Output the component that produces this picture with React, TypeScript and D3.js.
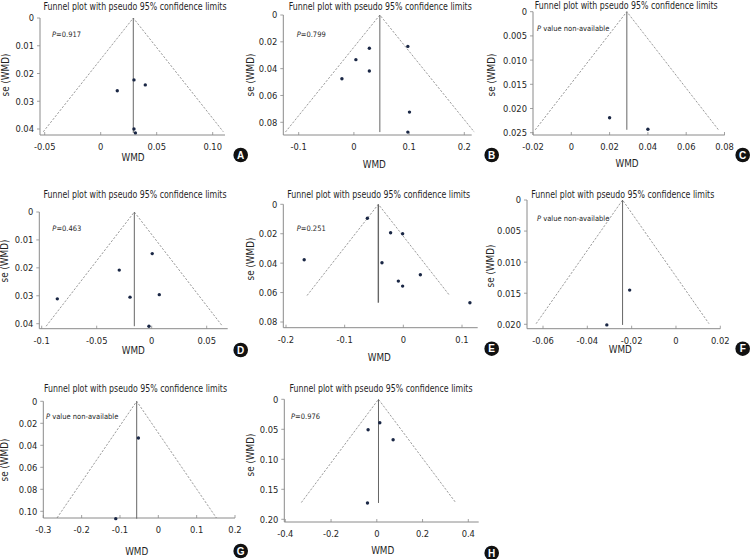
import React from "react";
import * as d3 from "d3";

// ---------- DATA ----------
const panelLetters = ["A", "B", "C", "D", "E", "F", "G", "H"];
const titleText = "Funnel plot with pseudo 95% confidence limits";
const pLabels = ["P=0.917", "P=0.799", "P value non-available", "P=0.463", "P=0.251", "P value non-available", "P value non-available", "P=0.976"];

const wmdA = [0.0148, 0.0297, 0.0398, 0.0297, 0.031];
const seA = [0.0262, 0.0223, 0.0241, 0.04, 0.0414];
const wmdB = [0.028, 0.0036, 0.028, -0.0217, 0.0977, 0.1007, 0.0977];
const seB = [0.0248, 0.0333, 0.0418, 0.0475, 0.0234, 0.0724, 0.0873];
const wmdC = [0.02, 0.04];
const seC = [0.0219, 0.0243];
const wmdD = [0.0005, -0.0295, -0.0858, -0.0197, 0.0069, -0.0025];
const seD = [0.0149, 0.0208, 0.0311, 0.0305, 0.0296, 0.0409];
const wmdE = [-0.0613, -0.0217, -0.0012, -0.169, -0.0364, 0.029, -0.0085, -0.0012, 0.1135];
const seE = [0.0095, 0.0193, 0.02, 0.0377, 0.0397, 0.0479, 0.0522, 0.0556, 0.0669];
const wmdF = [-0.0209, -0.0312];
const seF = [0.0145, 0.0201];
const wmdG = [-0.052, -0.111];
const seG = [0.0334, 0.1067];
const wmdH = [0.0131, -0.038, 0.0713, -0.0407];
const seH = [0.039, 0.0507, 0.0673, 0.1728];

const pooled = [0.0291, 0.047, 0.029, -0.0158, -0.0426, -0.0241, -0.0564, 0.0074];
const maxSe = [0.0414, 0.0873, 0.0244, 0.0409, 0.0669, 0.0201, 0.1067, 0.1728];
const ciSe = [0.041, 0.0873, 0.0244, 0.0409, 0.062, 0.0199, 0.106, 0.172];

const xTicksA = [-0.05, 0, 0.05, 0.1];
const xTickLabelsA = ["-0.05", "0", "0.05", "0.10"];
const yTicksA = [0, 0.01, 0.02, 0.03, 0.04];
const yTickLabelsA = ["0", "0.01", "0.02", "0.03", "0.04"];
const xTicksB = [-0.1, 0, 0.1, 0.2];
const xTickLabelsB = ["-0.1", "0", "0.1", "0.2"];
const yTicksB = [0, 0.02, 0.04, 0.06, 0.08];
const yTickLabelsB = ["0", "0.02", "0.04", "0.06", "0.08"];
const xTicksC = [-0.02, 0, 0.02, 0.04, 0.06, 0.08];
const xTickLabelsC = ["-0.02", "0", "0.02", "0.04", "0.06", "0.08"];
const yTicksC = [0, 0.005, 0.01, 0.015, 0.02, 0.025];
const yTickLabelsC = ["0", "0.005", "0.010", "0.015", "0.020", "0.025"];
const xTicksD = [-0.1, -0.05, 0, 0.05];
const xTickLabelsD = ["-0.1", "-0.05", "0", "0.05"];
const yTicksD = [0, 0.01, 0.02, 0.03, 0.04];
const yTickLabelsD = ["0", "0.01", "0.02", "0.03", "0.04"];
const xTicksE = [-0.2, -0.1, 0, 0.1];
const xTickLabelsE = ["-0.2", "-0.1", "0", "0.1"];
const yTicksE = [0, 0.02, 0.04, 0.06, 0.08];
const yTickLabelsE = ["0", "0.02", "0.04", "0.06", "0.08"];
const xTicksF = [-0.06, -0.04, -0.02, 0, 0.02];
const xTickLabelsF = ["-0.06", "-0.04", "-0.02", "0", "0.02"];
const yTicksF = [0, 0.005, 0.01, 0.015, 0.02];
const yTickLabelsF = ["0", "0.005", "0.010", "0.015", "0.020"];
const xTicksG = [-0.3, -0.2, -0.1, 0, 0.1, 0.2];
const xTickLabelsG = ["-0.3", "-0.2", "-0.1", "0", "0.1", "0.2"];
const yTicksG = [0, 0.02, 0.04, 0.06, 0.08, 0.1];
const yTickLabelsG = ["0", "0.02", "0.04", "0.06", "0.08", "0.10"];
const xTicksH = [-0.4, -0.2, 0, 0.2, 0.4];
const xTickLabelsH = ["-0.4", "-0.2", "0", "0.2", "0.4"];
const yTicksH = [0, 0.05, 0.1, 0.15, 0.2];
const yTickLabelsH = ["0", "0.05", "0.10", "0.15", "0.20"];

const wmdAll = [wmdA, wmdB, wmdC, wmdD, wmdE, wmdF, wmdG, wmdH];
const seAll = [seA, seB, seC, seD, seE, seF, seG, seH];
const xTicksAll = [xTicksA, xTicksB, xTicksC, xTicksD, xTicksE, xTicksF, xTicksG, xTicksH];
const xTickLabelsAll = [xTickLabelsA, xTickLabelsB, xTickLabelsC, xTickLabelsD, xTickLabelsE, xTickLabelsF, xTickLabelsG, xTickLabelsH];
const yTicksAll = [yTicksA, yTicksB, yTicksC, yTicksD, yTicksE, yTicksF, yTicksG, yTicksH];
const yTickLabelsAll = [yTickLabelsA, yTickLabelsB, yTickLabelsC, yTickLabelsD, yTickLabelsE, yTickLabelsF, yTickLabelsG, yTickLabelsH];

// ---------- LAYOUT (pixels) ----------
const layout = [
  { xr: [44.7, 212.7], yr: [18, 129], axis: [40, 225, 135], title: [135, 9.5], wmd: [133, 157], letter: [240.7, 155], ylab: [6, 75], p: [52, 37] },
  { xr: [298.7, 464.3], yr: [15, 122.3], axis: [283.3, 471.7, 135], title: [380.3, 9.5], wmd: [374.3, 164], letter: [491.7, 155], ylab: [251, 75], p: [296.7, 37] },
  { xr: [533, 724.5], yr: [11.7, 132.7], axis: [533, 724.7, 135], title: [626.2, 9], wmd: [627, 163.3], letter: [742.7, 155], ylab: [492, 75], p: [537, 30.5] },
  { xr: [41.7, 206.7], yr: [212, 323.7], axis: [39.3, 227.7, 328.7], title: [135, 198], wmd: [133.3, 350], letter: [240.7, 350], ylab: [5, 261], p: [52.3, 231] },
  { xr: [286, 462], yr: [204.3, 322], axis: [283.3, 477.7, 327.7], title: [378.7, 197.5], wmd: [379.3, 357.7], letter: [491.7, 348.7], ylab: [251, 259], p: [296.7, 231] },
  { xr: [543, 720.3], yr: [200, 324.3], axis: [527, 720.3, 328.7], title: [622.8, 197.5], wmd: [620.3, 349.3], letter: [742.7, 348.7], ylab: [491, 266], p: [537, 221] },
  { xr: [43.3, 235], yr: [401.3, 511.3], axis: [43.3, 235, 518], title: [135.5, 392], wmd: [136.7, 551], letter: [240.7, 551], ylab: [5, 460], p: [46, 419] },
  { xr: [285.3, 468.3], yr: [399.3, 519.3], axis: [284.3, 478.7, 522], title: [381, 391.5], wmd: [382.7, 550.3], letter: [491.7, 553], ylab: [251, 455], p: [291, 419] },
];

const FONT = "'Liberation Sans Narrow', 'DejaVu Sans Condensed', 'Roboto Condensed', Arial, sans-serif";
const AXIS = "#8a8a8a";
const TEXT = "#1f1f1f";
const DOT = "#1a2745";

function Panel({ i }: { i: number }) {
  const L = layout[i];
  const xt = xTicksAll[i];
  const yt = yTicksAll[i];
  const x = d3.scaleLinear().domain([xt[0], xt[xt.length - 1]]).range(L.xr);
  const y = d3.scaleLinear().domain([yt[0], yt[yt.length - 1]]).range(L.yr);
  const [aL, aR, aB] = L.axis;
  const aT = y(0);
  const c = pooled[i];
  const cs = ciSe[i];
  const line = d3.line<[number, number]>().x((d) => x(d[0])).y((d) => y(d[1]));
  const funnel = line([
    [c - 1.96 * cs, cs],
    [c, 0],
    [c + 1.96 * cs, cs],
  ]) as string;
  const vline = line([
    [c, 0],
    [c, maxSe[i]],
  ]) as string;
  const pl = pLabels[i];
  return (
    <g>
      <text x={L.title[0]} y={L.title[1]} textAnchor="middle" fontSize={9.8} fill={TEXT} fontFamily={FONT} textLength={183} lengthAdjust="spacingAndGlyphs">
        {titleText}
      </text>
      <line x1={aL} x2={aL} y1={aT} y2={aB} stroke={AXIS} strokeWidth={1} />
      <line x1={aL} x2={aR} y1={aB} y2={aB} stroke={AXIS} strokeWidth={1} />
      {yt.map((t, k) => (
        <g key={"y" + k}>
          <line x1={aL - 3} x2={aL} y1={y(t)} y2={y(t)} stroke={AXIS} strokeWidth={0.8} />
          <text x={aL - 6} y={y(t) + 3.4} textAnchor="end" fontSize={9.3} fill={TEXT} fontFamily={FONT}>
            {yTickLabelsAll[i][k]}
          </text>
        </g>
      ))}
      {xt.map((t, k) => (
        <g key={"x" + k}>
          <line x1={x(t)} x2={x(t)} y1={aB - 3} y2={aB} stroke={AXIS} strokeWidth={0.8} />
          <text x={x(t)} y={aB + 15} textAnchor="middle" fontSize={9.3} fill={TEXT} fontFamily={FONT}>
            {xTickLabelsAll[i][k]}
          </text>
        </g>
      ))}
      <path d={funnel} fill="none" stroke="#555" strokeWidth={0.6} strokeDasharray="2.2,1.6" />
      <path d={vline} fill="none" stroke="#666" strokeWidth={i === 4 ? 1.4 : 1} />
      {wmdAll[i].map((w, k) => (
        <circle key={"p" + k} cx={x(w)} cy={y(seAll[i][k])} r={1.7} fill={DOT} />
      ))}
      <text x={L.p[0]} y={L.p[1]} fontSize={7.5} fill={TEXT} fontFamily={FONT}>
        <tspan fontStyle="italic">P</tspan>
        <tspan>{pl.slice(1)}</tspan>
      </text>
      <text x={L.wmd[0]} y={L.wmd[1] + 3.5} textAnchor="middle" fontSize={9.8} fill={TEXT} fontFamily={FONT}>
        WMD
      </text>
      <text transform={`translate(${L.ylab[0] + 3.3},${L.ylab[1]}) rotate(-90)`} textAnchor="middle" fontSize={9.8} fill={TEXT} fontFamily={FONT}>
        se (WMD)
      </text>
      <circle cx={L.letter[0]} cy={L.letter[1]} r={7.3} fill="#111" />
      <text x={L.letter[0]} y={L.letter[1] + 3.6} textAnchor="middle" fontSize={10} fontWeight="bold" fill="#fff" fontFamily="'Liberation Sans', Arial, sans-serif">
        {panelLetters[i]}
      </text>
    </g>
  );
}

export default function App() {
  return (
    <svg width={753} height={559} style={{ position: "absolute", left: 0, top: 0, background: "#fff" }}>
      <rect x={0} y={0} width={753} height={559} fill="#fff" />
      {panelLetters.map((_, i) => (
        <Panel key={i} i={i} />
      ))}
    </svg>
  );
}
